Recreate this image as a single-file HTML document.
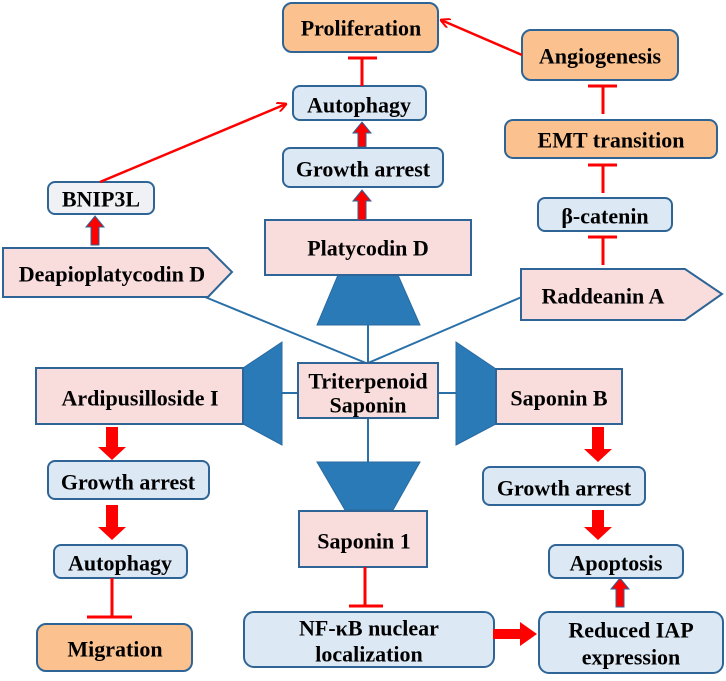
<!DOCTYPE html>
<html><head><meta charset="utf-8"><style>
html,body{margin:0;padding:0;background:#fff;}
svg text{font-family:"Liberation Serif",serif;font-weight:bold;font-size:22px;fill:#000;text-anchor:middle;dominant-baseline:central;}
</style></head><body>
<svg width="726" height="676" viewBox="0 0 726 676" xmlns="http://www.w3.org/2000/svg">
<defs>
<marker id="ah" markerWidth="10" markerHeight="10" refX="9" refY="5" orient="auto" markerUnits="userSpaceOnUse"><path d="M0,0 L10,5 L0,10" fill="none" stroke="#f00" stroke-width="2"/></marker>
</defs>
<g stroke="#2a70a8" stroke-width="2">
<line x1="205" y1="297" x2="366" y2="363"/>
<line x1="524" y1="296" x2="368" y2="363"/>
<line x1="368" y1="325" x2="368" y2="363"/>
<line x1="368" y1="418" x2="368" y2="462"/>
<line x1="282" y1="393" x2="298" y2="393"/>
<line x1="438" y1="393" x2="456" y2="393"/>
</g>
<g fill="#2a7ab8" stroke="#2a6aa0" stroke-width="1">
<polygon points="338,275 398,275 420,325 317,325"/>
<polygon points="317,462 420,462 393,510 345,510"/>
<polygon points="243,368 282,342 282,445 243,424"/>
<polygon points="456,342 496,369 496,424 456,445"/>
</g>
<g stroke="#2e6596" stroke-width="2">
<rect x="283" y="3" width="155" height="49" rx="9" fill="#fbc28f"/>
<rect x="522" y="30" width="156" height="50" rx="9" fill="#fbc28f"/>
<rect x="505" y="120" width="212" height="38" rx="8" fill="#fbc28f"/>
<rect x="37" y="624" width="155" height="47" rx="9" fill="#fbc28f"/>
<rect x="293" y="86" width="133" height="34" rx="7" fill="#dce8f4"/>
<rect x="283" y="148" width="160" height="39" rx="7" fill="#dce8f4"/>
<rect x="538" y="198" width="134" height="33" rx="7" fill="#dce8f4"/>
<rect x="48" y="182" width="106" height="32" rx="7" fill="#eff1f4"/>
<rect x="48" y="461" width="161" height="38" rx="7" fill="#dce8f4"/>
<rect x="54" y="545" width="133" height="33" rx="7" fill="#dce8f4"/>
<rect x="483" y="467" width="162" height="38" rx="7" fill="#dce8f4"/>
<rect x="549" y="545" width="134" height="33" rx="7" fill="#dce8f4"/>
<rect x="244" y="612" width="250" height="55" rx="10" fill="#dce8f4"/>
<rect x="539" y="612" width="184" height="61" rx="10" fill="#dce8f4"/>
<rect x="265" y="220" width="206" height="55" fill="#f9dcdc"/>
<rect x="298" y="363" width="140" height="55" fill="#f9dcdc"/>
<rect x="36" y="368" width="207" height="56" fill="#f9dcdc"/>
<rect x="496" y="369" width="126" height="55" fill="#f9dcdc"/>
<rect x="299" y="511" width="128" height="56" fill="#f9dcdc"/>
<polygon points="3,248 208,248 232,272 208,297 3,297" fill="#f9dcdc"/>
<polygon points="521,269 685,269 722,294 685,320 521,320" fill="#f9dcdc"/>
</g>
<g stroke="#f00" stroke-width="3" fill="none">
<line x1="362" y1="86" x2="362" y2="58"/><line x1="348" y1="58" x2="377" y2="58"/>
<line x1="603" y1="114" x2="603" y2="86"/><line x1="588" y1="86" x2="617" y2="86"/>
<line x1="603" y1="193" x2="603" y2="165"/><line x1="588" y1="165" x2="617" y2="165"/>
<line x1="603" y1="265" x2="603" y2="237"/><line x1="588" y1="237" x2="617" y2="237"/>
<line x1="112" y1="578" x2="112" y2="617"/><line x1="87" y1="617" x2="132" y2="617"/>
<line x1="365" y1="567" x2="365" y2="606"/><line x1="349" y1="606" x2="383" y2="606"/>
</g>
<g stroke="#f00" stroke-width="2.5" fill="none">
<line x1="100" y1="182" x2="286" y2="104" marker-end="url(#ah)"/>
<line x1="522" y1="55" x2="441" y2="20" marker-end="url(#ah)"/>
</g>
<g fill="#f00">
<polygon points="106,427 118,427 118,447 126,447 112,460 98,447 106,447"/>
<polygon points="106,505 118,505 118,527 126,527 112,540 98,527 106,527"/>
<polygon points="592,427 604,427 604,449 612,449 598,462 584,449 592,449"/>
<polygon points="592,510 604,510 604,527 612,527 598,540 584,527 592,527"/>
<polygon points="493,629 520,629 520,622 537,634 520,646 520,639 493,639"/>
</g>
<g fill="#f00" stroke="#2e6596" stroke-width="1">
<polygon points="358,147 366,147 366,133 371,133 362,122 353,133 358,133"/>
<polygon points="358,220 366,220 366,201 371,201 362,190 353,201 358,201"/>
<polygon points="91,245 99,245 99,227 104,227 95,216 86,227 91,227"/>
<polygon points="616,607 624,607 624,589 629,589 620,578 611,589 616,589"/>
</g>
<text x="361" y="28">Proliferation</text>
<text x="600" y="56">Angiogenesis</text>
<text x="611" y="140">EMT transition</text>
<text x="605" y="216">β-catenin</text>
<text x="359" y="105">Autophagy</text>
<text x="363" y="169">Growth arrest</text>
<text x="101" y="199">BNIP3L</text>
<text x="368" y="248">Platycodin D</text>
<text x="112" y="274">Deapioplatycodin D</text>
<text x="603" y="296">Raddeanin A</text>
<text x="368" y="381">Triterpenoid</text>
<text x="368" y="405">Saponin</text>
<text x="140" y="398">Ardipusilloside I</text>
<text x="559" y="398">Saponin B</text>
<text x="128" y="482">Growth arrest</text>
<text x="120" y="563">Autophagy</text>
<text x="115" y="649">Migration</text>
<text x="364" y="541">Saponin 1</text>
<text x="564" y="488">Growth arrest</text>
<text x="616" y="563">Apoptosis</text>
<text x="369" y="628">NF-κB nuclear</text>
<text x="369" y="654">localization</text>
<text x="631" y="630">Reduced IAP</text>
<text x="631" y="657">expression</text>
</svg>
</body></html>
